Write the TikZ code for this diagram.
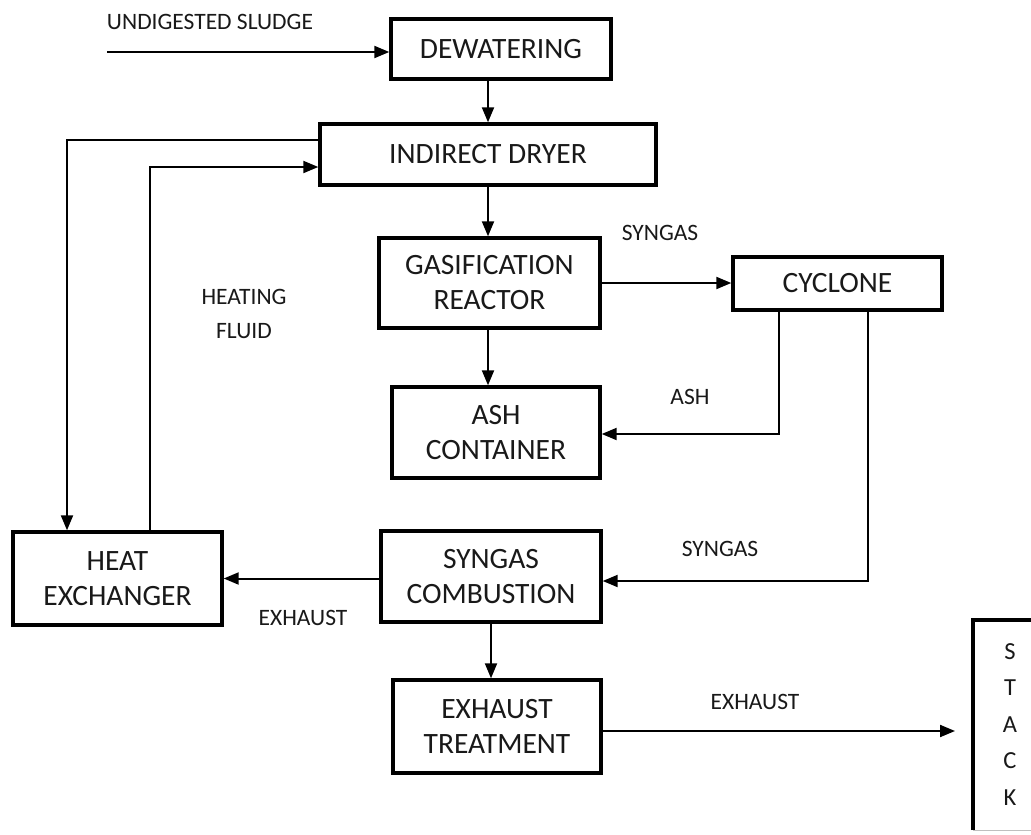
\documentclass[tikz,border=0pt]{standalone}
\usepackage{fontspec}
\setmainfont{Carlito}
\usetikzlibrary{arrows.meta}
\tikzset{
  blk/.style={draw=black, line width=3.4pt, align=center, inner sep=0pt,
    font=\fontsize{29.5}{35}\selectfont, text=black!90},
  lbl/.style={align=center, inner sep=0pt, font=\fontsize{23.5}{34}\selectfont, text=black!90},
  flow/.style={line width=2pt, -{Triangle[length=15pt,width=12pt]}},
  pipe/.style={line width=2pt}
}
\begin{document}
\begin{tikzpicture}[x=1pt,y=-1pt]
\useasboundingbox (0,0) rectangle (1031,835);
\fill[white] (0,0) rectangle (1031,835);

% boxes
\node[blk, minimum width=220pt, minimum height=60pt] (dew) at (501,49) {DEWATERING};
\node[blk, minimum width=336pt, minimum height=61pt] (dry) at (488,154.5) {INDIRECT DRYER};
\node[blk, minimum width=221pt, minimum height=90pt] (gas) at (489.5,283) {GASIFICATION\\REACTOR};
\node[blk, minimum width=208pt, minimum height=91pt] (ash) at (496,432.5) {ASH\\CONTAINER};
\node[blk, minimum width=209pt, minimum height=53pt] (cyc) at (837.5,283.5) {CYCLONE};
\node[blk, minimum width=209pt, minimum height=93pt] (hx) at (117.5,578.5) {HEAT\\EXCHANGER};
\node[blk, minimum width=220pt, minimum height=91pt] (comb) at (491,576.5) {SYNGAS\\COMBUSTION};
\node[blk, minimum width=208pt, minimum height=93pt] (ext) at (497,726.5) {EXHAUST\\TREATMENT};

% stack (cut by the right edge)
\node[lbl, font=\fontsize{24.5}{36.5}\selectfont, minimum width=110pt, minimum height=210pt] (stack) at (1028,725) {};
\node[lbl, font=\fontsize{24.5}{36.5}\selectfont] (stacktxt) at (1010,724.5) {S\\T\\A\\C\\K};
\draw[line width=3.4pt] (stack.south west) -- (stack.north west) -- (stack.north east);
\draw[line width=0.8pt, black!25] (stack.south west) -- (stack.south east);

% helper coordinates
\coordinate (src) at (107,52);
\coordinate (loopA) at (67,140);
\coordinate (hfA) at (150,167);
\coordinate (ashbend) at (779,434);
\coordinate (gasbend) at (868,581);
\coordinate (stin) at (955,731);

% connectors
\draw[flow] (src) -- (src -| dew.west);
\draw[flow] (dew.south -| dry.north) -- (dry.north);
\draw[flow] (dry.south) -- (dry.south |- gas.north);
\draw[flow] (gas.south -| dry.south) -- (ash.north -| dry.south);
\draw[flow] (gas.east) -- (gas.east -| cyc.west);
\draw[flow] (cyc.south -| ashbend) -- (ashbend) -- (ash.east |- ashbend);
\draw[flow] (cyc.south -| gasbend) -- (gasbend) -- (comb.east |- gasbend);
\draw[flow] (comb.west |- hx.east) -- (hx.east);
\draw[flow] (comb.south) -- (comb.south |- ext.north);
\draw[flow] (ext.east |- stin) -- (stin);
\draw[flow] (dry.west |- loopA) -- (loopA) -- (loopA |- hx.north);
\draw[flow] (hfA |- hx.north) -- (hfA) -- (dry.west |- hfA);

% labels
\node[lbl] (l1) at (210,22) {UNDIGESTED SLUDGE};
\node[lbl] (l2) at (660,233) {SYNGAS};
\node[lbl] (l3) at (244,297) {HEATING};
\node[lbl] (l4) at (244,331) {FLUID};
\node[lbl] (l5) at (690,397) {ASH};
\node[lbl] (l6) at (720,549) {SYNGAS};
\node[lbl] (l7) at (303,618) {EXHAUST};
\node[lbl] (l8) at (755,702) {EXHAUST};
\end{tikzpicture}
\end{document}
